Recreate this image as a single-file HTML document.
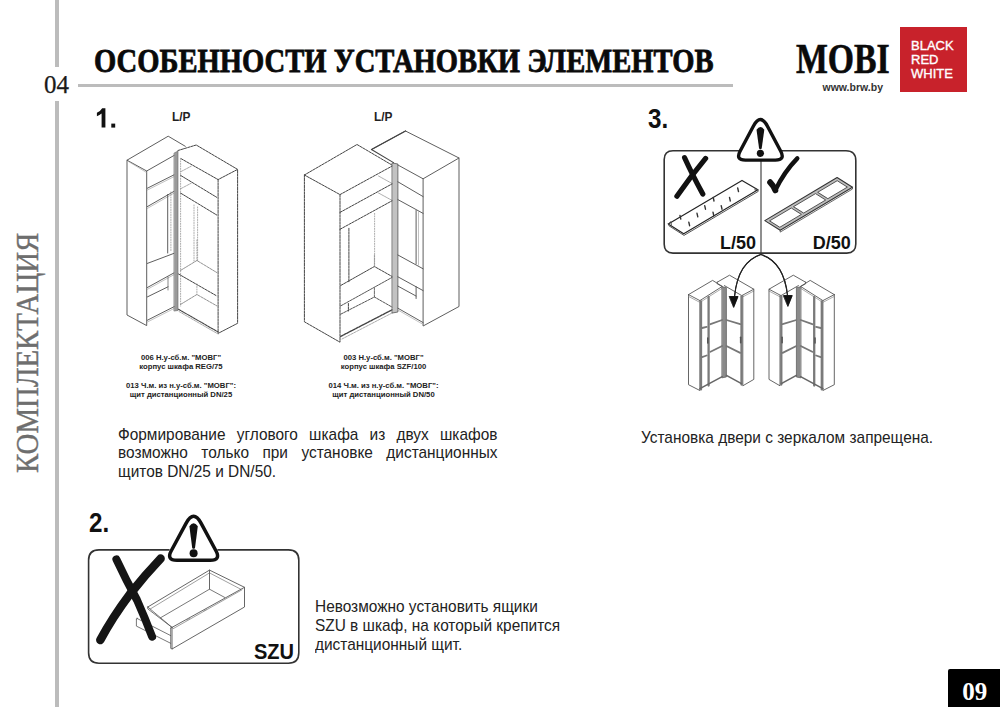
<!DOCTYPE html>
<html><head><meta charset="utf-8">
<style>
html,body{margin:0;padding:0;background:#fff;}
body{width:1000px;height:707px;position:relative;overflow:hidden;font-family:"Liberation Sans",sans-serif;color:#222;}
.a{position:absolute;white-space:nowrap;}
.serif{font-family:"Liberation Serif",serif;}
#vl1{position:absolute;left:55px;top:0;width:3.5px;height:67px;background:#bcbcbc;}
#vl2{position:absolute;left:55px;top:101px;width:3.5px;height:606px;background:#bcbcbc;}
#hl{position:absolute;left:78px;top:84.2px;width:655px;height:3px;background:#bcbcbc;}
#n04{left:44px;top:70px;font-size:25px;line-height:30px;color:#1a1a1a;-webkit-text-stroke:0.25px #1a1a1a;}
#title{left:94px;top:41.3px;font-size:34px;line-height:40px;font-weight:bold;color:#0a0a0a;transform-origin:0 0;transform:scaleX(0.841);-webkit-text-stroke:0.8px #0a0a0a;}
#mobi{left:796px;top:37px;font-size:41.4px;line-height:44px;font-weight:bold;color:#0a0a0a;transform-origin:0 0;transform:scaleX(0.815);-webkit-text-stroke:0.6px #0a0a0a;}
#www{left:822.5px;top:79.8px;font-size:10.5px;line-height:14px;font-weight:bold;color:#333;}
#red{position:absolute;left:900px;top:27px;width:67px;height:65px;background:#c8222b;}
#brw{left:911px;top:39px;font-size:13px;line-height:14px;color:#fff;white-space:pre;-webkit-text-stroke:0.35px #fff;}
#komp{left:9px;top:473px;font-size:32.6px;line-height:36px;color:#6e6e6e;transform-origin:0 0;transform:rotate(-90deg) scaleX(0.886);-webkit-text-stroke:0.4px #6e6e6e;}
#p09box{position:absolute;left:948px;top:669px;width:52px;height:38px;background:#000;border-top-left-radius:2px;}
#p09{left:962.3px;top:677.2px;font-size:25px;line-height:30px;font-weight:bold;color:#fff;}
.num{font-weight:bold;font-size:27.5px;line-height:30px;color:#111;transform:scaleX(0.88);transform-origin:0 0;}
.lp{font-weight:bold;font-size:12.8px;line-height:14px;color:#222;transform:scaleX(0.93);transform-origin:0 0;}
.cap{font-weight:bold;font-size:7.7px;line-height:9.2px;color:#222;text-align:center;}
.lbl{font-weight:bold;font-size:18px;line-height:20px;color:#111;z-index:2}
.lbl2{font-weight:bold;font-size:22.5px;line-height:24px;color:#111;z-index:2;transform:scaleX(0.89);transform-origin:0 0}
.txt{font-size:15.9px;color:#222;transform:scaleX(0.97);transform-origin:0 0;}
</style></head><body>
<div id="vl1"></div><div id="vl2"></div><div id="hl"></div>
<div class="a serif" id="n04">04</div>
<div class="a serif" id="title">ОСОБЕННОСТИ УСТАНОВКИ ЭЛЕМЕНТОВ</div>
<div class="a serif" id="mobi">MOBI</div>
<div class="a" id="www">www.brw.by</div>
<div id="red"></div>
<div class="a" id="brw">BLACK
RED
WHITE</div>
<div class="a serif" id="komp">КОМПЛЕКТАЦИЯ</div>
<div id="p09box"></div>
<div class="a serif" id="p09">09</div>


<div class="a lp" id="lp1" style="left:172px;top:109.5px">L/P</div>
<div class="a lp" id="lp2" style="left:374px;top:109.8px">L/P</div>
<div class="a num" id="n3" style="left:648px;top:104px">3.</div>
<div class="a lbl" id="l50" style="left:720px;top:232.8px">L/50</div>
<div class="a lbl" id="d50" style="left:812.8px;top:232.8px">D/50</div>
<div class="a lbl2" id="szu" style="left:253.8px;top:640.3px">SZU</div>
<div class="a num" id="n2" style="left:89px;top:508px">2.</div>

<div class="a cap" id="cap1" style="left:101px;top:352.6px;width:160px">006 Н.у-сб.м. "МОВГ"<br>корпус шкафа REG/75<br><div style="height:9.5px"></div>013 Ч.м. из н.у-сб.м. "МОВГ":<br>щит дистанционный DN/25</div>
<div class="a cap" id="cap2" style="left:303.5px;top:352.6px;width:160px">003 Н.у-сб.м. "МОВГ"<br>корпус шкафа SZF/100<br><div style="height:9.5px"></div>014 Ч.м. из н.у-сб.м. "МОВГ":<br>щит дистанционный DN/50</div>

<div class="a txt" id="t1" style="left:117.6px;top:425.5px;width:391.2px;white-space:normal;text-align:justify;line-height:18.9px;">Формирование углового шкафа из двух шкафов возможно только при установке дистанционных щитов DN/25 и DN/50.</div>
<div class="a txt" id="t3" style="left:640.6px;top:429.4px;line-height:18px;">Установка двери с зеркалом запрещена.</div>
<div class="a txt" id="t2" style="left:314.6px;top:597.8px;line-height:18.9px;">Невозможно установить ящики<br>SZU в шкаф, на который крепится<br>дистанционный щит.</div>
<svg id="gfx" width="1000" height="707" viewBox="0 0 1000 707" style="position:absolute;left:0;top:0" fill="none" stroke-linejoin="round" stroke-linecap="round">
<path d="M738.5 150.7 H673 Q664.2 150.7 664.2 159.5 V244.3 Q664.2 253.1 673 253.1 H846.8 Q855.8 253.1 855.8 244.1 V160.5 Q855.8 150.7 846 150.7 H782" stroke="#333" stroke-width="1.6"/>
<line x1="761" y1="160" x2="761" y2="254.5" stroke="#333" stroke-width="1.1"/>
<path d="M767.47 126.18 L780.75 151.30 Q785.40 160.10 775.44 160.10 L745.36 160.10 Q735.40 160.10 740.05 151.30 L753.33 126.18 Q760.40 112.80 767.47 126.18 Z" fill="#fff" stroke="#111" stroke-width="3.4"/><path d="M756.50 129.71 Q760.40 124.25 764.30 129.71 L761.70 148.50 Q760.40 150.06 759.10 148.50 Z" fill="#111"/><circle cx="760.40" cy="153.30" r="3.60" fill="#111"/>
<path d="M684.6 157.7 Q692 174 702.8 194.1" stroke="#111" stroke-width="5.2"/>
<path d="M705.6 158.4 Q691 176 676.9 196.2" stroke="#111" stroke-width="5.2"/>
<path d="M668.3 223.9 L742.0 180.4 L757.9 189.8 L683.7 233.8 Z" stroke="#222" stroke-width="1.15"/>
<path d="M668.3 223.9 L669.0 225.8 L684.0 235.4 L758.2 191.4 L757.9 189.8" stroke="#444" stroke-width="0.90"/>
<line x1="688.8" y1="222.1" x2="689.6" y2="225.7" stroke="#333" stroke-width="1.4"/>
<line x1="697.0" y1="213.3" x2="697.8" y2="216.9" stroke="#333" stroke-width="1.4"/>
<line x1="704.7" y1="205.6" x2="705.5" y2="209.2" stroke="#333" stroke-width="1.4"/>
<line x1="713.2" y1="197.4" x2="714.0" y2="201.0" stroke="#333" stroke-width="1.4"/>
<line x1="721.2" y1="205.6" x2="722.0" y2="209.2" stroke="#333" stroke-width="1.4"/>
<line x1="729.5" y1="197.4" x2="730.3" y2="201.0" stroke="#333" stroke-width="1.4"/>
<line x1="737.7" y1="188.0" x2="738.5" y2="191.6" stroke="#333" stroke-width="1.4"/>
<line x1="713.0" y1="212.2" x2="713.8" y2="215.8" stroke="#333" stroke-width="1.4"/>
<line x1="680.0" y1="215.5" x2="680.8" y2="219.1" stroke="#333" stroke-width="1.4"/>
<path d="M668.3 223.9 L671.0 221.6 L671.5 225.0" stroke="#444" stroke-width="0.80"/>
<path d="M757.9 189.8 L754.8 188.8 L755.5 191.2" stroke="#444" stroke-width="0.80"/>
<path d="M770.2 182.3 Q773.5 185.5 775.3 190.3" stroke="#111" stroke-width="6"/>
<path d="M775.3 190.3 Q784 172 797.3 158.4" stroke="#111" stroke-width="4.4"/>
<path d="M764.8 220.6 L837.1 177.5 L852.5 187.2 L780.2 230.3 Z" stroke="#333" stroke-width="1.10" fill="#bdbdbd"/>
<path d="M769.9 220.7 L791.3 208.0 L801.4 214.4 L780.1 227.1 Z" stroke="#444" stroke-width="0.90" fill="#fff"/>
<path d="M793.8 206.5 L815.5 193.6 L825.7 200.0 L804.0 212.9 Z" stroke="#444" stroke-width="0.90" fill="#fff"/>
<path d="M818.0 192.1 L837.2 180.7 L847.4 187.1 L828.2 198.5 Z" stroke="#444" stroke-width="0.90" fill="#fff"/>
<path d="M780.2 230.3 L780.2 232.1 L852.5 189.0 L852.5 187.2" stroke="#444" stroke-width="0.80"/>
<path d="M760.8 254.5 Q738 262 734.6 296" stroke="#222" stroke-width="1.1"/>
<path d="M760.8 254.5 Q784 262 787.6 296" stroke="#222" stroke-width="1.1"/>
<path d="M729.6 296.5 L738 296.5 L733.8 307 Z" fill="#111" stroke="#111" stroke-width="0.6"/>
<path d="M783.8 295.6 L792.2 295.6 L788 306 Z" fill="#111" stroke="#111" stroke-width="0.6"/>
<path d="M169 549.9 H99 Q88.6 549.9 88.6 560.3 V652.8 Q88.6 663.2 99 663.2 H288.4 Q298.8 663.2 298.8 652.8 V560.3 Q298.8 549.9 288.4 549.9 H218" stroke="#333" stroke-width="1.6"/>
<path d="M201.17 523.34 L215.93 550.72 Q221.10 560.30 210.21 560.30 L176.99 560.30 Q166.10 560.30 171.27 550.72 L186.03 523.34 Q193.60 509.30 201.17 523.34 Z" fill="#fff" stroke="#111" stroke-width="3.5"/><path d="M189.40 526.28 Q193.60 520.40 197.80 526.28 L195.00 548.00 Q193.60 549.68 192.20 548.00 Z" fill="#111"/><circle cx="193.60" cy="553.30" r="4.00" fill="#111"/>
<path d="M101.6 127.6 V113.4 Q99.6 115.2 96.9 116.2 V112.7 Q100.3 111.4 102.2 108.2 H105.4 V127.6 Z" fill="#111"/>
<rect x="111.3" y="123.6" width="3.9" height="4" fill="#111"/>
<g><path d="M688.5 294.6 L688.5 384.7 L699.9 390.5 L699.9 300.6" stroke="#555" stroke-width="0.90"/>
<path d="M688.5 294.6 L712.6 280.4 L722.3 286.4 L699.9 300.6 L688.5 294.6" stroke="#555" stroke-width="0.90"/>
<path d="M688.5 296.4 L699.9 302.4 L722.3 288.2" stroke="#888" stroke-width="0.70"/>
<path d="M717.2 282.2 L729.5 275.2 L753.8 289.2 L741.8 295.6 L724.4 285.6" stroke="#555" stroke-width="0.90"/>
<path d="M741.8 297.4 L753.8 291.0" stroke="#888" stroke-width="0.70"/>
<path d="M717.2 282.2 L717.2 283.8 L722.3 286.6" stroke="#555" stroke-width="0.90"/>
<path d="M753.8 289.2 L753.8 379.4 L742.8 385.8 L742.8 295.6" stroke="#555" stroke-width="0.90"/>
<path d="M722.2 286.8 L726.4 287.5 L726.4 377 L722.2 377.8 Z" fill="#8a8a8a" stroke="#555" stroke-width="0.7"/>
<line x1="701.0" y1="301.5" x2="701.0" y2="389.4" stroke="#7a7a7a" stroke-width="2.3"/>
<line x1="708.6" y1="297.0" x2="708.6" y2="385.5" stroke="#7a7a7a" stroke-width="2.3"/>
<line x1="741.5" y1="296.5" x2="741.5" y2="384.6" stroke="#7a7a7a" stroke-width="2.3"/>
<path d="M702.0 328.0 L706.7 326.9" stroke="#777" stroke-width="1.80"/>
<path d="M702.0 357.1 L706.7 355.5" stroke="#777" stroke-width="1.80"/>
<path d="M710.5 324.2 L722.1 320.0" stroke="#777" stroke-width="1.80"/>
<path d="M710.5 351.8 L722.1 346.0" stroke="#777" stroke-width="1.80"/>
<path d="M726.4 320.0 L740.2 324.2" stroke="#777" stroke-width="1.80"/>
<path d="M726.4 346.0 L740.2 352.9" stroke="#777" stroke-width="1.80"/>
<path d="M699.9 388.6 L722.2 376.6" stroke="#666" stroke-width="1.60"/>
<path d="M726.4 375.4 L741.5 383.6" stroke="#666" stroke-width="1.60"/>
<path d="M707.8 338.0 L707.8 343.0" stroke="#555" stroke-width="1.60"/>
<path d="M740.7 337.2 L740.7 342.8" stroke="#555" stroke-width="1.60"/></g>
<g transform="translate(1522.8,0) scale(-1,1)"><path d="M688.5 294.6 L688.5 384.7 L699.9 390.5 L699.9 300.6" stroke="#555" stroke-width="0.90"/>
<path d="M688.5 294.6 L712.6 280.4 L722.3 286.4 L699.9 300.6 L688.5 294.6" stroke="#555" stroke-width="0.90"/>
<path d="M688.5 296.4 L699.9 302.4 L722.3 288.2" stroke="#888" stroke-width="0.70"/>
<path d="M717.2 282.2 L729.5 275.2 L753.8 289.2 L741.8 295.6 L724.4 285.6" stroke="#555" stroke-width="0.90"/>
<path d="M741.8 297.4 L753.8 291.0" stroke="#888" stroke-width="0.70"/>
<path d="M717.2 282.2 L717.2 283.8 L722.3 286.6" stroke="#555" stroke-width="0.90"/>
<path d="M753.8 289.2 L753.8 379.4 L742.8 385.8 L742.8 295.6" stroke="#555" stroke-width="0.90"/>
<path d="M722.2 286.8 L726.4 287.5 L726.4 377 L722.2 377.8 Z" fill="#8a8a8a" stroke="#555" stroke-width="0.7"/>
<line x1="701.0" y1="301.5" x2="701.0" y2="389.4" stroke="#7a7a7a" stroke-width="2.3"/>
<line x1="708.6" y1="297.0" x2="708.6" y2="385.5" stroke="#7a7a7a" stroke-width="2.3"/>
<line x1="741.5" y1="296.5" x2="741.5" y2="384.6" stroke="#7a7a7a" stroke-width="2.3"/>
<path d="M702.0 328.0 L706.7 326.9" stroke="#777" stroke-width="1.80"/>
<path d="M702.0 357.1 L706.7 355.5" stroke="#777" stroke-width="1.80"/>
<path d="M710.5 324.2 L722.1 320.0" stroke="#777" stroke-width="1.80"/>
<path d="M710.5 351.8 L722.1 346.0" stroke="#777" stroke-width="1.80"/>
<path d="M726.4 320.0 L740.2 324.2" stroke="#777" stroke-width="1.80"/>
<path d="M726.4 346.0 L740.2 352.9" stroke="#777" stroke-width="1.80"/>
<path d="M699.9 388.6 L722.2 376.6" stroke="#666" stroke-width="1.60"/>
<path d="M726.4 375.4 L741.5 383.6" stroke="#666" stroke-width="1.60"/>
<path d="M707.8 338.0 L707.8 343.0" stroke="#555" stroke-width="1.60"/>
<path d="M740.7 337.2 L740.7 342.8" stroke="#555" stroke-width="1.60"/></g>
<path d="M760.8 254.5 Q738 262 734.6 296" stroke="#222" stroke-width="1.1"/>
<path d="M760.8 254.5 Q784 262 787.6 296" stroke="#222" stroke-width="1.1"/>
<path d="M729.6 296.5 L738 296.5 L733.8 307 Z" fill="#111" stroke="#111" stroke-width="0.6"/>
<path d="M783.8 295.6 L792.2 295.6 L788 306 Z" fill="#111" stroke="#111" stroke-width="0.6"/>
<g><path d="M127.0 160.2 L127.0 315.0 L146.7 325.6 L146.7 171.0 L127.0 160.2 L168.2 136.2 L185.3 146.3" stroke="#555" stroke-width="0.95"/>
<path d="M146.7 171.0 L174.7 155.1" stroke="#555" stroke-width="0.95"/>
<path d="M128.5 161.5 L146.5 172.5" stroke="#999" stroke-width="0.60"/>
<path d="M147.4 188.2 L174.1 174.8" stroke="#555" stroke-width="0.95"/>
<path d="M147.4 190.0 L174.1 176.6" stroke="#999" stroke-width="0.60"/>
<path d="M147.4 206.6 L174.1 191.3" stroke="#555" stroke-width="0.95"/>
<path d="M147.4 208.4 L174.1 193.1" stroke="#999" stroke-width="0.60"/>
<path d="M167.7 194.5 L167.7 253.0" stroke="#555" stroke-width="0.95"/>
<path d="M170.9 192.0 L170.9 252.0" stroke="#888" stroke-width="0.70" stroke-dasharray="1 1.5"/>
<path d="M147.4 263.4 L174.1 253.3" stroke="#555" stroke-width="0.95"/>
<path d="M147.4 287.5 L174.1 272.8" stroke="#555" stroke-width="0.95"/>
<path d="M147.4 289.3 L174.1 274.6" stroke="#999" stroke-width="0.60"/>
<path d="M147.4 296.9 L168.0 286.8" stroke="#555" stroke-width="0.95"/>
<path d="M168.0 277.0 L168.0 290.0" stroke="#555" stroke-width="0.70"/>
<path d="M147.4 320.2 L175.0 306.2" stroke="#555" stroke-width="0.95"/>
<path d="M147.4 322.0 L175.0 308.0" stroke="#999" stroke-width="0.60"/>
<path d="M174.3 153 L178 151 L178 310.5 L174.3 311 Z" fill="#9a9a9a" stroke="#666" stroke-width="0.6"/>
<path d="M178.0 150.5 L196.2 145.0 L237.6 169.4 L218.1 179.6 L180.6 158.4" stroke="#454545" stroke-width="1.00" stroke-dasharray="2.4 1"/>
<path d="M218.1 179.6 L218.1 333.4 L237.6 323.3 L237.6 169.4" stroke="#454545" stroke-width="1.00" stroke-dasharray="2.4 1"/>
<path d="M180.6 158.4 L180.6 306.0" stroke="#888" stroke-width="0.70" stroke-dasharray="1 1.5"/>
<path d="M180.6 175.4 L216.7 197.3" stroke="#454545" stroke-width="1.00" stroke-dasharray="2.4 1"/>
<path d="M180.6 193.1 L216.7 215.0" stroke="#454545" stroke-width="1.00" stroke-dasharray="2.4 1"/>
<path d="M180.6 171.8 L191.2 166.2" stroke="#888" stroke-width="0.70" stroke-dasharray="2.4 1"/>
<path d="M180.6 188.8 L191.2 183.2" stroke="#888" stroke-width="0.70" stroke-dasharray="2.4 1"/>
<path d="M194.0 205.0 L194.0 262.0" stroke="#888" stroke-width="0.70" stroke-dasharray="1 1.5"/>
<path d="M197.6 207.0 L197.6 262.0" stroke="#888" stroke-width="0.70" stroke-dasharray="1 1.5"/>
<path d="M180.6 270.4 L196.9 260.5 L216.7 272.5" stroke="#777" stroke-width="0.80" stroke-dasharray="2.4 1"/>
<path d="M196.9 240.0 L196.9 260.5" stroke="#888" stroke-width="0.70" stroke-dasharray="1 1.5"/>
<path d="M178.5 274.0 L216.7 295.9" stroke="#454545" stroke-width="1.00" stroke-dasharray="2.4 1"/>
<path d="M180.6 304.4 L196.9 294.5 L216.7 305.8" stroke="#777" stroke-width="0.80" stroke-dasharray="2.4 1"/>
<path d="M196.9 284.0 L196.9 294.5" stroke="#888" stroke-width="0.70" stroke-dasharray="1 1.5"/>
<path d="M178.5 309.3 L218.1 332.0" stroke="#454545" stroke-width="1.10" stroke-dasharray="2.4 1"/>
<path d="M179.0 311.5 L218.1 334.0" stroke="#888" stroke-width="0.70" stroke-dasharray="2.4 1"/>
<path d="M304.4 175.0 L357.0 144.5 L392.4 165.3" stroke="#454545" stroke-width="1.00" stroke-dasharray="2.4 1"/>
<path d="M304.4 175.0 L340.0 194.6 L392.4 165.9" stroke="#454545" stroke-width="1.00" stroke-dasharray="2.4 1"/>
<path d="M304.4 175.0 L304.4 321.8 L340.0 342.2 L340.0 194.6" stroke="#454545" stroke-width="1.00" stroke-dasharray="2.4 1"/>
<path d="M340.0 212.4 L392.4 183.7" stroke="#454545" stroke-width="1.00" stroke-dasharray="2.4 1"/>
<path d="M340.0 229.3 L392.4 200.6" stroke="#454545" stroke-width="1.00" stroke-dasharray="2.4 1"/>
<path d="M378.5 176.0 L392.4 183.7" stroke="#888" stroke-width="0.70" stroke-dasharray="2.4 1"/>
<path d="M378.5 193.0 L392.4 200.6" stroke="#888" stroke-width="0.70" stroke-dasharray="2.4 1"/>
<path d="M348.9 228.3 L348.9 282.0" stroke="#454545" stroke-width="1.00" stroke-dasharray="2.4 1"/>
<path d="M374.6 213.4 L374.6 266.9" stroke="#888" stroke-width="0.70" stroke-dasharray="1 1.5"/>
<path d="M340.7 285.5 L374.4 266.5 L392.3 276.6" stroke="#454545" stroke-width="1.00" stroke-dasharray="2.4 1"/>
<path d="M340.7 305.9 L392.3 277.3" stroke="#454545" stroke-width="0.90" stroke-dasharray="2.4 1"/>
<path d="M374.4 255.0 L374.4 266.5" stroke="#888" stroke-width="0.70" stroke-dasharray="2.4 1"/>
<path d="M374.4 288.0 L374.4 297.0" stroke="#454545" stroke-width="0.80" stroke-dasharray="2.4 1"/>
<path d="M340.7 314.2 L374.4 297.0 L392.3 307.2" stroke="#454545" stroke-width="0.90" stroke-dasharray="2.4 1"/>
<path d="M348.4 303.5 L348.4 311.0" stroke="#454545" stroke-width="1.00" stroke-dasharray="2.4 1"/>
<path d="M340.7 336.4 L392.3 309.7" stroke="#454545" stroke-width="1.40" stroke-dasharray="2.4 1"/>
<path d="M342.0 339.0 L393.0 312.5" stroke="#888" stroke-width="0.70" stroke-dasharray="2.4 1"/>
<path d="M392.4 163 L397.9 164 L397.9 312 L392.4 313 Z" fill="#c2c2c2" stroke="#555" stroke-width="0.8"/>
<path d="M371.5 149.5 L405.5 131.0 L459.0 158.0 L423.1 178.8 L397.9 165.0" stroke="#555" stroke-width="0.95"/>
<path d="M371.5 149.5 L393.5 162.6" stroke="#444" stroke-width="1.10"/>
<path d="M371.5 149.5 L405.5 131.0" stroke="#444" stroke-width="1.40"/>
<path d="M423.1 178.8 L423.1 326.0 L459.0 306.5 L459.0 158.0" stroke="#555" stroke-width="0.95"/>
<path d="M397.9 181.8 L423.1 196.6" stroke="#555" stroke-width="0.95"/>
<path d="M397.9 199.6 L423.1 213.4" stroke="#555" stroke-width="0.95"/>
<path d="M416.1 210.5 L416.1 263.9" stroke="#555" stroke-width="0.95"/>
<path d="M418.5 211.8 L418.5 265.0" stroke="#999" stroke-width="0.60"/>
<path d="M397.9 255.0 L423.1 268.8" stroke="#555" stroke-width="0.95"/>
<path d="M397.9 276.8 L423.1 290.6" stroke="#555" stroke-width="0.95"/>
<path d="M397.9 286.1 L416.0 296.0" stroke="#555" stroke-width="0.95"/>
<path d="M416.1 286.7 L416.1 298.5" stroke="#555" stroke-width="0.95"/>
<path d="M397.9 308.2 L423.1 322.6" stroke="#555" stroke-width="0.95"/>
<path d="M397.9 310.0 L423.1 324.4" stroke="#999" stroke-width="0.60"/></g>
<g><path d="M136.4 619.1 L136.4 626.1 L170.7 643.3" stroke="#555" stroke-width="0.80"/>
<path d="M137.0 618.4 L170.7 635.6" stroke="#555" stroke-width="0.80"/>
<path d="M136.4 619.1 L137.6 618.2" stroke="#555" stroke-width="0.80"/>
<path d="M147.8 607.0 L209.5 570.1 L244.5 587.3" stroke="#555" stroke-width="0.90"/>
<path d="M150.4 608.9 L209.5 572.9 L240.7 589.2" stroke="#777" stroke-width="0.70"/>
<path d="M147.8 607.0 L147.8 608.9 L172.0 627.4" stroke="#555" stroke-width="0.80"/>
<path d="M147.8 607.0 L172.0 627.4" stroke="#555" stroke-width="0.80"/>
<path d="M209.5 570.1 L209.5 589.2" stroke="#555" stroke-width="0.90"/>
<path d="M160.5 617.8 L209.5 589.2 L224.8 597.5" stroke="#555" stroke-width="0.80"/>
<path d="M172.0 627.4 L244.5 587.3 L244.5 607.0 L172.0 649.0 L172.0 627.4" stroke="#555" stroke-width="0.90"/>
<path d="M170.7 628.0 L170.7 648.4 L172.0 649.0" stroke="#555" stroke-width="0.80"/>
<path d="M170.7 628.0 L172.0 627.4" stroke="#555" stroke-width="0.80"/>
<path d="M173.3 628.6 L242.0 589.8" stroke="#777" stroke-width="0.70"/>
<path d="M186.6 620.0 L189.8 618.4" stroke="#888" stroke-width="0.70"/>
<path d="M203.8 610.8 L206.4 609.5" stroke="#888" stroke-width="0.70"/>
<path d="M116.4 559.4 Q126 580 137 600 Q145 618 152.1 636.7" stroke="#151515" stroke-width="8"/>
<path d="M160.6 558.6 Q145 575 130 594 Q112 618 100.3 640.1" stroke="#151515" stroke-width="8.5"/></g>
</svg>
</body></html>
